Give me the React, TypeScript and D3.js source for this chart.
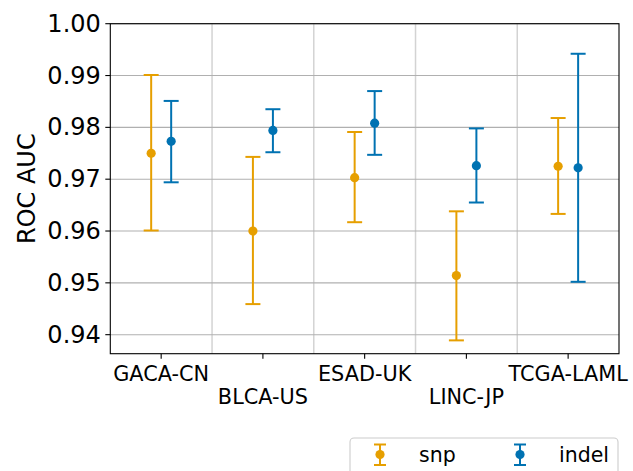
import React from "react";
import * as d3 from "d3";

const categories = ["GACA-CN", "BLCA-US", "ESAD-UK", "LINC-JP", "TCGA-LAML"];
const snpMean = [0.9750, 0.9600, 0.9703, 0.9514, 0.9725];
const snpLow = [0.9601, 0.9459, 0.9617, 0.9389, 0.9633];
const snpHigh = [0.9901, 0.9743, 0.9791, 0.9638, 0.9818];
const indelMean = [0.9773, 0.9794, 0.9808, 0.9726, 0.9722];
const indelLow = [0.9694, 0.9752, 0.9747, 0.9655, 0.9502];
const indelHigh = [0.9851, 0.9835, 0.9870, 0.9798, 0.9942];
const yTicks = [0.94, 0.95, 0.96, 0.97, 0.98, 0.99, 1.0];

const W = 633;
const H = 471;
const margin = { left: 110.3, right: 14, top: 23.7, bottom: 117.3 };
const SNP = "#E69F00";
const INDEL = "#0072B2";
const FONT = "DejaVu Sans, sans-serif";

export default function App() {
  const x = d3
    .scaleBand<string>()
    .domain(categories)
    .range([margin.left, W - margin.right])
    .padding(0);
  const y = d3
    .scaleLinear()
    .domain([0.93633, 1.0])
    .range([H - margin.bottom, margin.top]);
  const off = 10;
  const cap = 7.5;
  const series = [
    { name: "snp", color: SNP, mean: snpMean, low: snpLow, high: snpHigh, dx: -off },
    { name: "indel", color: INDEL, mean: indelMean, low: indelLow, high: indelHigh, dx: off },
  ];
  const x0 = margin.left;
  const x1 = W - margin.right;
  const y0 = H - margin.bottom;
  const y1 = margin.top;
  const bw = x.bandwidth();

  return (
    <svg
      width={W}
      height={H}
      style={{ position: "absolute", left: 0, top: 0, display: "block" }}
      fontFamily={FONT}
    >
      <rect x={0} y={0} width={W} height={H} fill="white" />
      {categories.slice(1).map((c) => (
        <line
          key={"vg" + c}
          x1={x(c)!}
          x2={x(c)!}
          y1={y1}
          y2={y0}
          stroke="#d3d3d3"
          strokeWidth={1.5}
        />
      ))}
      {yTicks.map((t) => (
        <line
          key={"hg" + t}
          x1={x0}
          x2={x1}
          y1={y(t)}
          y2={y(t)}
          stroke="#b0b0b0"
          strokeWidth={1.1}
        />
      ))}
      {series.map((s) =>
        categories.map((c, i) => {
          const cx = x(c)! + bw / 2 + s.dx;
          return (
            <g key={s.name + c}>
              <line x1={cx} x2={cx} y1={y(s.low[i])} y2={y(s.high[i])} stroke={s.color} strokeWidth={2} />
              <line x1={cx - cap} x2={cx + cap} y1={y(s.low[i])} y2={y(s.low[i])} stroke={s.color} strokeWidth={2} />
              <line x1={cx - cap} x2={cx + cap} y1={y(s.high[i])} y2={y(s.high[i])} stroke={s.color} strokeWidth={2} />
              <circle cx={cx} cy={y(s.mean[i])} r={4.6} fill={s.color} />
            </g>
          );
        })
      )}
      <rect x={x0} y={y1} width={x1 - x0} height={y0 - y1} fill="none" stroke="black" strokeWidth={1.1} />
      {yTicks.map((t) => (
        <g key={"yt" + t}>
          <line x1={x0 - 5} x2={x0} y1={y(t)} y2={y(t)} stroke="black" strokeWidth={1.1} />
          <text
            x={x0 - 9.5}
            y={y(t)}
            textAnchor="end"
            dominantBaseline="central"
            fontSize={24}
            fill="black"
          >
            {d3.format(".2f")(t)}
          </text>
        </g>
      ))}
      {categories.map((c, i) => {
        const cx = x(c)! + bw / 2;
        return (
          <g key={"xt" + c}>
            <line x1={cx} x2={cx} y1={y0} y2={y0 + 5} stroke="black" strokeWidth={1.1} />
            <text
              x={cx}
              y={i % 2 === 0 ? 381 : 404}
              textAnchor="middle"
              fontSize={20.8}
              fill="black"
            >
              {c}
            </text>
          </g>
        );
      })}
      <text
        transform={`translate(35, ${(y0 + y1) / 2}) rotate(-90)`}
        textAnchor="middle"
        fontSize={24}
        fill="black"
      >
        ROC AUC
      </text>
      <rect x={350} y={438} width={268} height={50} rx={4} fill="white" stroke="#cccccc" strokeWidth={1.1} />
      {series.map((s, i) => {
        const lx = i === 0 ? 380 : 520;
        const tx = i === 0 ? 419 : 559;
        const ly = 454.5;
        return (
          <g key={"lg" + s.name}>
            <line x1={lx} x2={lx} y1={444.5} y2={465} stroke={s.color} strokeWidth={2} />
            <line x1={lx - 6} x2={lx + 6} y1={444.5} y2={444.5} stroke={s.color} strokeWidth={2} />
            <line x1={lx - 6} x2={lx + 6} y1={465} y2={465} stroke={s.color} strokeWidth={2} />
            <circle cx={lx} cy={ly} r={4.6} fill={s.color} />
            <text x={tx} y={ly} dominantBaseline="central" fontSize={20.5} fill="black">
              {s.name}
            </text>
          </g>
        );
      })}
    </svg>
  );
}
